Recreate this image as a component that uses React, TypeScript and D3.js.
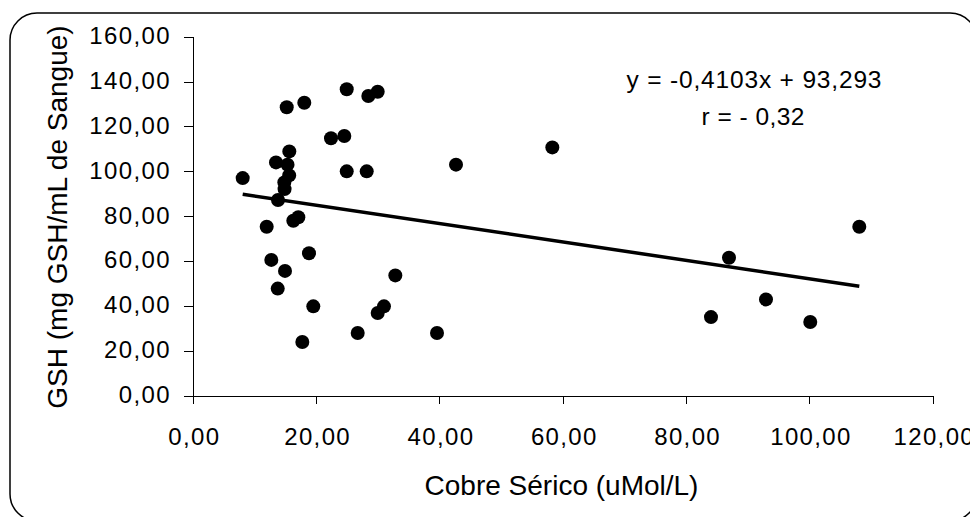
import React from "react";
import * as d3 from "d3";

const cobre: number[] = [
  24.88, 28.38, 29.9, 15.15, 18.0, 22.33, 24.49, 15.57, 13.41, 15.28, 42.6, 24.88, 28.12,
  8.01, 15.55, 14.76, 14.8, 13.74, 16.22, 17.03, 11.9, 18.76, 12.65, 14.87, 32.76, 13.69,
  19.46, 30.92, 29.9, 26.66, 39.52, 17.68, 108.0, 86.87, 92.87, 83.95, 100.05, 58.22,
];
const gsh: number[] = [
  136.8, 133.8, 135.7, 128.8, 130.8, 115.0, 116.0, 109.1, 104.2, 103.2, 103.2, 100.2, 100.2,
  97.2, 98.4, 95.2, 92.3, 87.4, 78.2, 79.7, 75.5, 63.7, 60.7, 55.8, 53.8, 47.9,
  40.0, 40.0, 37.0, 28.1, 28.1, 24.1, 75.5, 61.7, 43.1, 35.2, 33.0, 110.9,
];
const xTicks: number[] = [0, 20, 40, 60, 80, 100, 120];
const yTicks: number[] = [0, 20, 40, 60, 80, 100, 120, 140, 160];
const slope = -0.4103;
const intercept = 93.293;
const eqLabel = "y = -0,4103x + 93,293";
const rLabel = "r = - 0,32";
const xTitle = "Cobre Sérico (uMol/L)";
const yTitle = "GSH (mg GSH/mL de Sangue)";

const fmt = (v: number) => v.toFixed(2).replace(".", ",");

export default function App() {
  const W = 970;
  const H = 517;
  const x = d3.scaleLinear().domain([0, 120]).range([193.3, 933.3]);
  const y = d3.scaleLinear().domain([0, 160]).range([396, 37.3]);
  const font = "'Liberation Sans', Arial, sans-serif";
  const xmin = d3.min(cobre) as number;
  const xmax = d3.max(cobre) as number;
  const trend = d3
    .line<number>()
    .x((d) => x(d))
    .y((d) => y(slope * d + intercept));
  const pts = cobre.map((c, i) => ({ c, g: gsh[i] }));
  return (
    <svg
      width={W}
      height={H}
      style={{ position: "absolute", left: 0, top: 0, background: "#fff" }}
      fontFamily={font}
    >
      <rect x={0} y={0} width={W} height={H} fill="#fff" />
      <rect x={10} y={13} width={967} height={508} rx={27} ry={27} fill="none" stroke="#000" strokeWidth={1.5} />
      <g shapeRendering="crispEdges" stroke="#000" strokeWidth={1}>
        <line x1={x(0)} x2={x(0)} y1={y(160)} y2={y(0) + 8} />
        <line x1={x(0) - 9} x2={x(120)} y1={y(0)} y2={y(0)} />
        {yTicks.map((t) => (
          <line key={"yt" + t} x1={x(0) - 9} x2={x(0)} y1={y(t)} y2={y(t)} />
        ))}
        {xTicks.map((t) => (
          <line key={"xt" + t} x1={x(t)} x2={x(t)} y1={y(0)} y2={y(0) + 8} />
        ))}
      </g>
      {yTicks.map((t) => (
        <text key={"yl" + t} x={171} y={y(t) + 7} textAnchor="end" fontSize={24} letterSpacing={1.4} fill="#000">
          {fmt(t)}
        </text>
      ))}
      {xTicks.map((t) => (
        <text key={"xl" + t} x={x(t) + 1} y={445} textAnchor="middle" fontSize={24} letterSpacing={1.35} fill="#000">
          {fmt(t)}
        </text>
      ))}
      <text x={561.5} y={495} textAnchor="middle" fontSize={28} fill="#000">
        {xTitle}
      </text>
      <text transform={`translate(67,217) rotate(-90)`} textAnchor="middle" fontSize={28} fill="#000">
        {yTitle}
      </text>
      <path d={trend([xmin, xmax]) || ""} fill="none" stroke="#000" strokeWidth={3.5} />
      {pts.map((p, i) => (
        <circle key={i} cx={x(p.c)} cy={y(p.g)} r={7} fill="#000" />
      ))}
      <text x={754} y={88} textAnchor="middle" fontSize={24.5} textLength={255} lengthAdjust="spacing" fill="#000">
        {eqLabel}
      </text>
      <text x={753} y={125} textAnchor="middle" fontSize={24.5} textLength={103} lengthAdjust="spacing" fill="#000">
        {rLabel}
      </text>
    </svg>
  );
}
